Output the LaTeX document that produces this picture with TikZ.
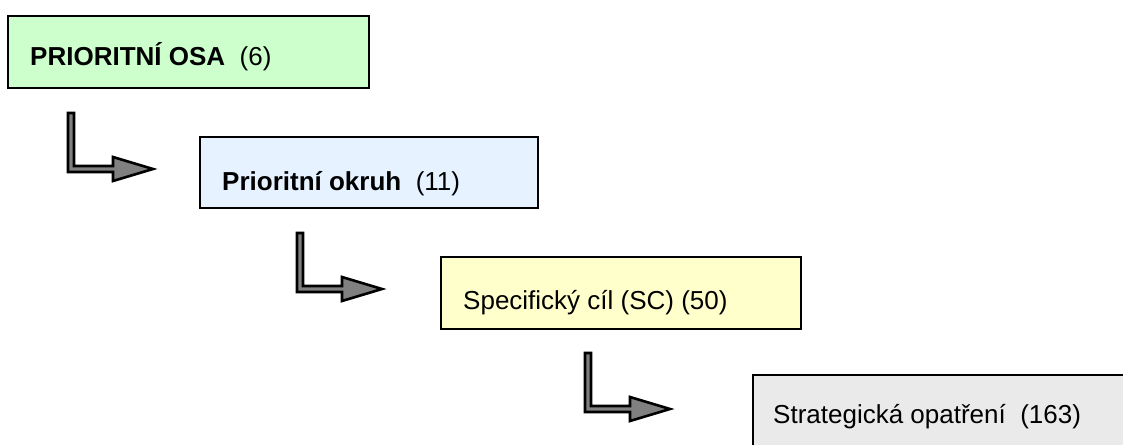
\documentclass[tikz,border=0pt]{standalone}
\usepackage{fontspec}
\setmainfont{Liberation Sans}
\definecolor{cOsa}{HTML}{CCFFCC}
\definecolor{cOkruh}{HTML}{E6F2FF}
\definecolor{cCil}{HTML}{FFFFCC}
\definecolor{cOpat}{HTML}{EAEAEA}
\definecolor{cArrow}{HTML}{808080}
\tikzset{
  levelbox/.style={draw=black, line width=2.6pt, anchor=north west, inner sep=0pt, outer sep=0pt},
  leveltext/.style={anchor=base west, inner sep=0pt, font=\fontsize{26}{31}\selectfont},
  larrow/.pic={
    \draw[line width=2.6pt, fill=cArrow, line join=miter]
      (1,0) -- (7,0) -- (7,53) -- (46,53) -- (46,44) -- (86,56) -- (46,68) -- (46,59) -- (1,59) -- cycle;
  }
}
\begin{document}
\begin{tikzpicture}[x=1pt, y=-1pt]
\useasboundingbox (0,0) rectangle (1123,444);
\clip (0,0) rectangle (1123,444);
% boxes
\node[levelbox, fill=cOsa,   minimum width=361pt, minimum height=72pt] (b1) at (8,16) {};
\node[levelbox, fill=cOkruh, minimum width=338pt, minimum height=71pt] (b2) at (200,137) {};
\node[levelbox, fill=cCil,   minimum width=360pt, minimum height=72pt] (b3) at (441,257) {};
\node[levelbox, fill=cOpat,  minimum width=420pt, minimum height=100pt] (b4) at (753,375) {};
% texts
\node[leveltext] (t1) at (30,66) {\textbf{PRIORITNÍ OSA}\ \ (6)};
\node[leveltext] (t2) at (222,190) {\textbf{Prioritní okruh}\ \ (11)};
\node[leveltext] (t3) at (463,309) {Specifický cíl (SC) (50)};
\node[leveltext] (t4) at (773,423) {Strategická opatření\ \ (163)};
% L-shaped arrows
\pic (a1) at (67,113) {larrow};
\pic (a2) at (296,233) {larrow};
\pic (a3) at (584,353) {larrow};
\end{tikzpicture}
\end{document}
